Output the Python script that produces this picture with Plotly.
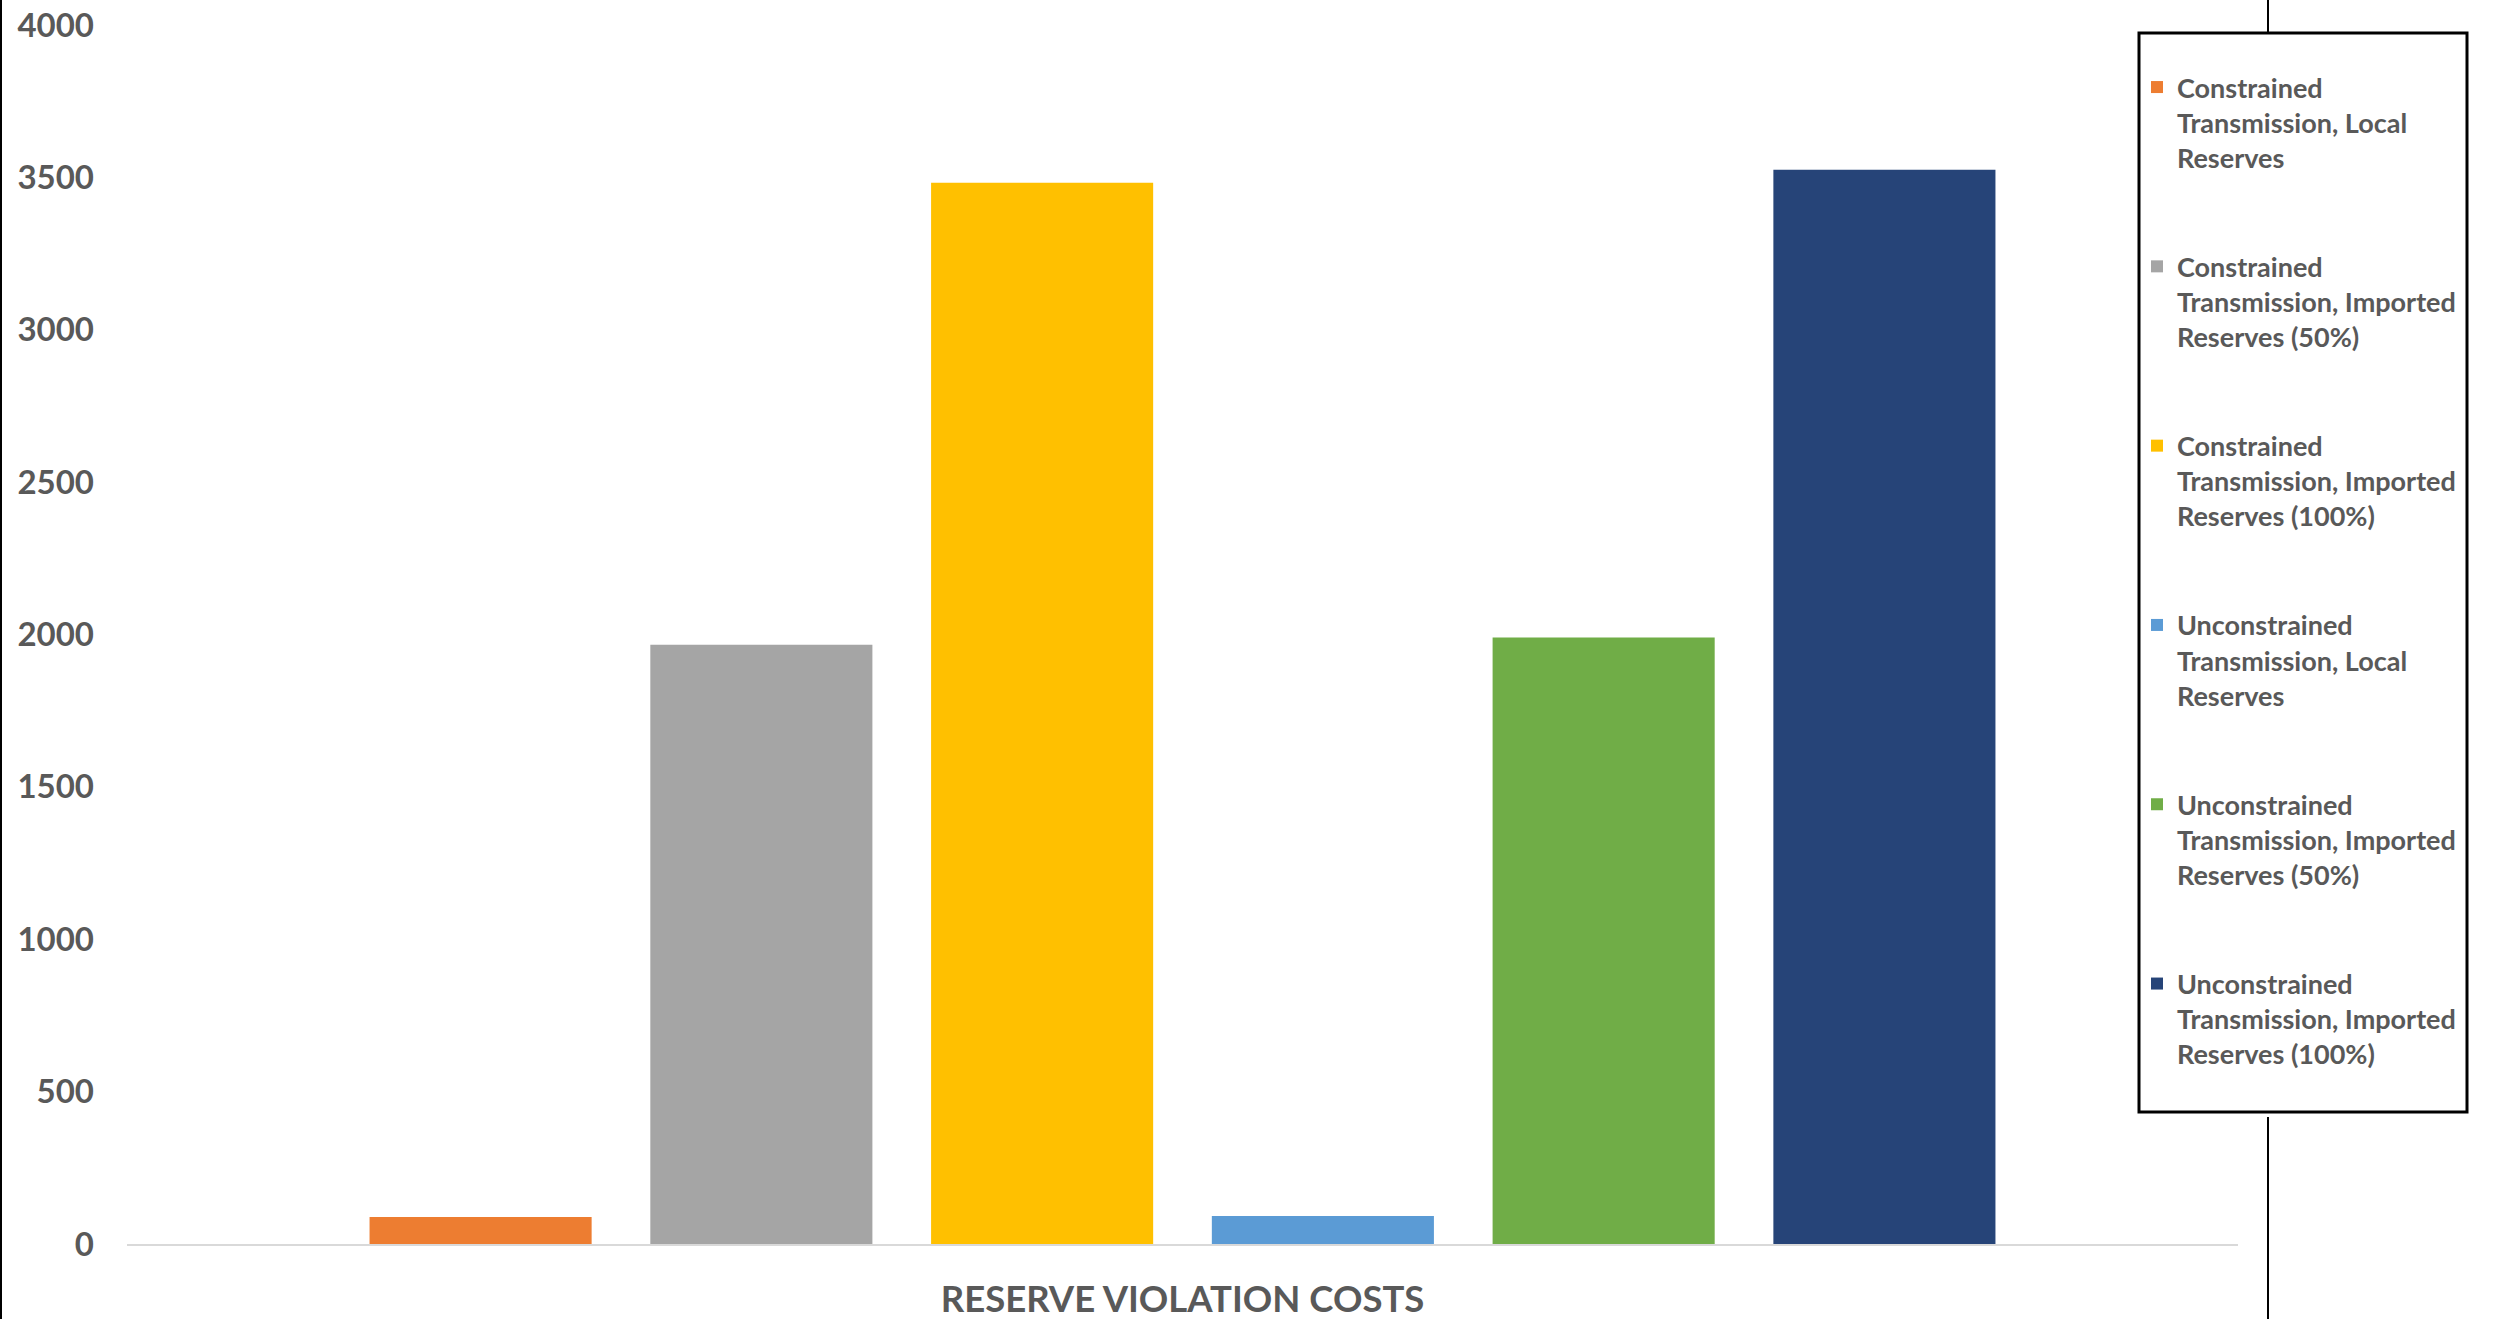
import plotly.graph_objects as go

# Chart data
category = ["RESERVE VIOLATION COSTS"]
series_names = [
    "Constrained<br>Transmission, Local<br>Reserves",
    "Constrained<br>Transmission, Imported<br>Reserves (50%)",
    "Constrained<br>Transmission, Imported<br>Reserves (100%)",
    "Unconstrained<br>Transmission, Local<br>Reserves",
    "Unconstrained<br>Transmission, Imported<br>Reserves (50%)",
    "Unconstrained<br>Transmission, Imported<br>Reserves (100%)",
]
series_values = [89, 1966, 3482, 92, 1990, 3525]
series_colors = ["#ED7D31", "#A5A5A5", "#FFC000", "#5B9BD5", "#70AD47", "#264478"]
y_ticks = [0, 500, 1000, 1500, 2000, 2500, 3000, 3500, 4000]

W, H = 2496, 1319
ML, MR, MT, MB = 127, 258, 25, 75
PW, PH = W - ML - MR, H - MT - MB


def px_x(p):
    return (p - ML) / PW


def px_y(p):
    return (H - MB - p) / PH


TEXT = "#595959"
FONT = "Lato"

fig = go.Figure()
for i, (name, val, col) in enumerate(zip(series_names, series_values, series_colors)):
    fig.add_trace(go.Bar(
        x=category, y=[val], name=name,
        marker=dict(color=col, line=dict(width=0)),
        legendgroup=f"g{i}",
    ))

shapes = [
    # legend frame
    dict(type="rect", xref="paper", yref="paper",
         x0=px_x(2139), x1=px_x(2467), y0=px_y(1112), y1=px_y(33),
         line=dict(color="#000000", width=3), fillcolor="#FFFFFF", layer="above"),
    # window frame lines
    dict(type="line", xref="paper", yref="paper",
         x0=px_x(2268), x1=px_x(2268), y0=px_y(0), y1=px_y(33),
         line=dict(color="#000000", width=2)),
    dict(type="line", xref="paper", yref="paper",
         x0=px_x(2268), x1=px_x(2268), y0=px_y(1117), y1=px_y(1319),
         line=dict(color="#000000", width=2)),
    dict(type="line", xref="paper", yref="paper",
         x0=px_x(1), x1=px_x(1), y0=px_y(0), y1=px_y(1319),
         line=dict(color="#000000", width=2)),
]

fig.update_layout(
    width=W, height=H,
    margin=dict(l=ML, r=MR, t=MT, b=MB, pad=0, autoexpand=False),
    paper_bgcolor="#FFFFFF", plot_bgcolor="#FFFFFF",
    barmode="group", bargap=0.202, bargroupgap=0.209,
    font=dict(family=FONT, color=TEXT),
    showlegend=True,
    legend=dict(
        xref="container", yref="container",
        x=2137 / W, y=1 - 63 / H, xanchor="left", yanchor="top",
        bgcolor="rgba(0,0,0,0)", borderwidth=0,
        font=dict(family=FONT, size=27, color=TEXT, weight=700),
        traceorder="grouped", tracegroupgap=71, valign="top",
        maxheight=1300, itemclick=False, itemdoubleclick=False,
    ),
    shapes=shapes,
    xaxis=dict(
        type="category", showgrid=False, zeroline=False,
        showline=True, linecolor="#D9D9D9", linewidth=2,
        ticks="", ticklabelstandoff=22,
        tickfont=dict(family=FONT, size=36.5, color=TEXT, weight=700),
    ),
    yaxis=dict(
        range=[0, 4000], tickvals=y_ticks, showgrid=False, zeroline=False,
        showline=False, ticks="", ticklabelstandoff=32,
        tickfont=dict(family=FONT, size=33, color=TEXT, weight=700),
    ),
)

fig.write_html("out.html")
